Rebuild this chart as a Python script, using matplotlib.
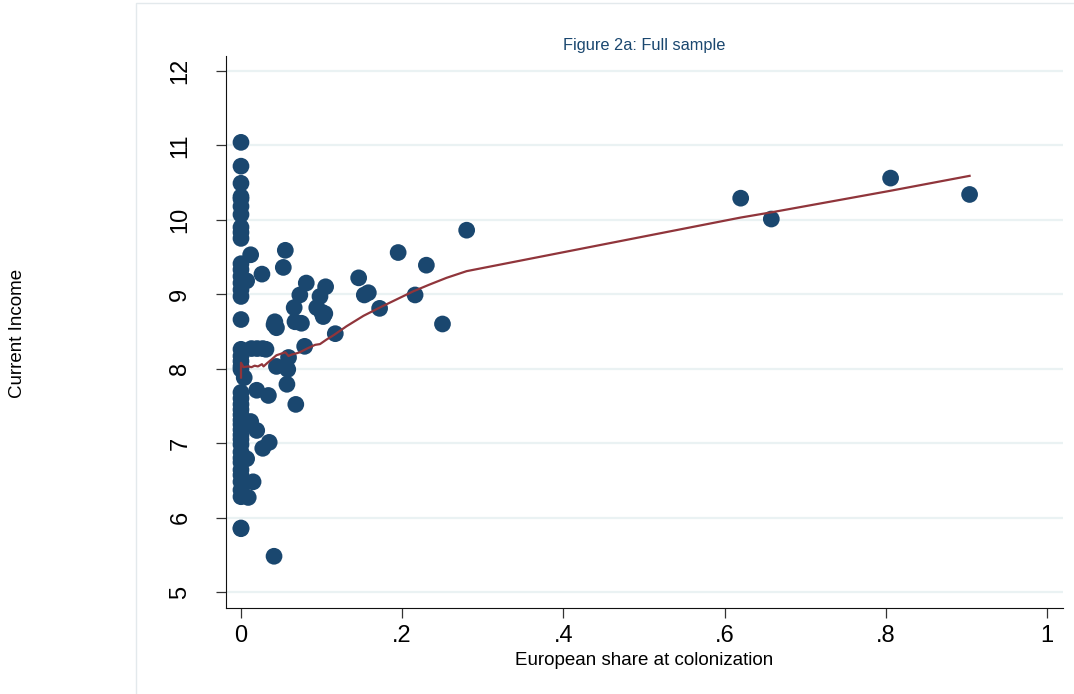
import matplotlib
matplotlib.use("Agg")
import matplotlib.pyplot as plt
from matplotlib.patches import Rectangle

plt.rcParams['font.family'] = ['Liberation Sans', 'DejaVu Sans']

# European share at colonization (x) and current income (y)
share = [0]*43 + [
    0.004, 0.007, 0.012, 0.055, 0.026, 0.0525, 0.081, 0.073,
    0.013, 0.020, 0.027, 0.031, 0.066, 0.041, 0.044, 0.042, 0.067, 0.075,
    0.079, 0.044, 0.059, 0.058, 0.057, 0.0195, 0.034, 0.068, 0.012, 0.0195,
    0.027, 0.035, 0.007, 0.015, 0.009, 0.041, 0.105, 0.098, 0.094, 0.100,
    0.102, 0.104, 0.117, 0.146, 0.153, 0.158, 0.172, 0.195, 0.216, 0.230,
    0.250, 0.280, 0.620, 0.658, 0.806, 0.904]
income = [
    11.04, 10.72, 10.49, 10.31, 10.28, 10.18, 10.07, 9.90, 9.83, 9.75,
    9.41, 9.33, 9.24, 9.15, 9.06, 8.97, 8.66, 8.26, 8.17, 8.10, 8.03, 7.99,
    7.68, 7.60, 7.52, 7.45, 7.38, 7.31, 7.25, 7.18, 7.11, 7.05, 6.98, 6.88,
    6.80, 6.74, 6.64, 6.57, 6.48, 6.37, 6.28, 5.86, 5.85,
    7.88, 9.18, 9.53, 9.59, 9.27, 9.36, 9.15, 8.99,
    8.27, 8.27, 8.27, 8.26, 8.82, 8.59, 8.55, 8.63, 8.63, 8.61,
    8.30, 8.03, 8.15, 7.99, 7.79, 7.71, 7.64, 7.52, 7.29, 7.17,
    6.93, 7.01, 6.79, 6.48, 6.27, 5.48, 9.10, 8.97, 8.82, 8.76,
    8.70, 8.74, 8.47, 9.22, 8.99, 9.02, 8.81, 9.56, 8.99, 9.39,
    8.60, 9.86, 10.29, 10.01, 10.56, 10.34]

# Smoothed (lowess) fit line
fit_x = [0.0, 0.0, 0.003, 0.009, 0.013, 0.017, 0.021, 0.026, 0.028, 0.032,
         0.044, 0.055, 0.059, 0.063, 0.067, 0.073, 0.082, 0.092, 0.098,
         0.106, 0.115, 0.131, 0.152, 0.172, 0.193, 0.214, 0.234, 0.255,
         0.280, 0.620, 0.658, 0.806, 0.904]
fit_y = [7.88, 8.08, 8.02, 8.03, 8.02, 8.04, 8.03, 8.06, 8.03, 8.07,
         8.18, 8.22, 8.17, 8.19, 8.20, 8.22, 8.27, 8.32, 8.33,
         8.39, 8.45, 8.57, 8.71, 8.82, 8.93, 9.04, 9.13, 9.22,
         9.31, 10.03, 10.10, 10.39, 10.59]

x_ticks = [0, 0.2, 0.4, 0.6, 0.8, 1.0]
x_ticklabels = ['0', '.2', '.4', '.6', '.8', '1']
y_ticks = [5, 6, 7, 8, 9, 10, 11, 12]

navy = '#1a476f'
maroon = '#90353b'

fig = plt.figure(figsize=(10.74, 6.94), dpi=100)
fig.patches.append(Rectangle((136/1074, -0.01), 1.0, (694-3)/694 + 0.01,
                             transform=fig.transFigure, fill=False,
                             edgecolor='#e3e9ec', linewidth=1.0))
ax = fig.add_axes([226/1074, 1-608/694, (1063-226)/1074, (608-56)/694])
ax.set_xlim(-0.0186, 1.0199)
ax.set_ylim(4.785, 12.2)

for yt in y_ticks:
    ax.axhline(yt, color='#eaf2f3', linewidth=1.6, zorder=0)

ax.scatter(share, income, s=145, color=navy, edgecolors='none', zorder=3)
ax.plot(fit_x, fit_y, color=maroon, linewidth=1.6, zorder=4)

ax.spines['top'].set_visible(False)
ax.spines['right'].set_visible(False)
ax.spines['left'].set_color('#111111')
ax.spines['bottom'].set_color('#111111')

ax.set_xticks(x_ticks)
ax.set_xticklabels(x_ticklabels)
ax.set_yticks(y_ticks)
ax.set_yticklabels([str(v) for v in y_ticks], rotation=90, va='center')
ax.tick_params(axis='both', labelsize=17, color='#333333', length=7, width=0.9)
ax.tick_params(axis='x', pad=5)
ax.tick_params(axis='y', pad=18)

ax.set_xlabel('European share at colonization', fontsize=13.5, labelpad=4)
ax.set_title('Figure 2a: Full sample', fontsize=11.8, color=navy, pad=4)
fig.text(18/1074, 1-333/694, 'Current Income', rotation=90, fontsize=13.5,
         ha='center', va='center')

fig.savefig('out.png', dpi=100)
